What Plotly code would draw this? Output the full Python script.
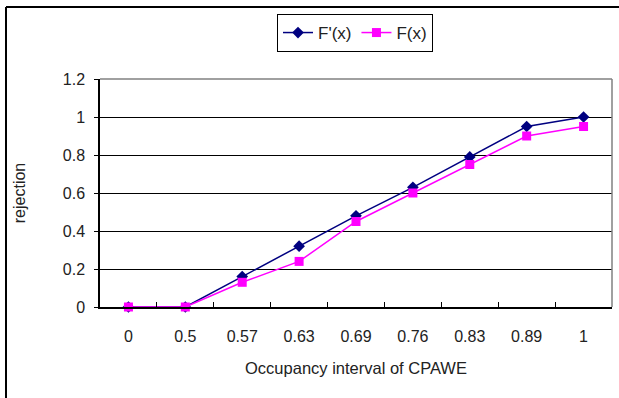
import plotly.graph_objects as go

categories = ["0", "0.5", "0.57", "0.63", "0.69", "0.76", "0.83", "0.89", "1"]
f_prime = [0, 0, 0.16, 0.32, 0.48, 0.63, 0.79, 0.95, 1.0]
f_vals = [0, 0, 0.13, 0.24, 0.45, 0.60, 0.75, 0.90, 0.95]
y_ticks = [0, 0.2, 0.4, 0.6, 0.8, 1, 1.2]
y_labels = ["0", "0.2", "0.4", "0.6", "0.8", "1", "1.2"]

W, H = 619, 398
L, R, T, B = 100, 7, 79, 91
pw, ph = W - L - R, H - T - B

def px(x):
    return (x - L) / pw

def py(y):
    return (H - B - y) / ph

font = "Liberation Sans"
txt = "#222222"

fig = go.Figure()
fig.add_trace(go.Scatter(
    x=categories, y=f_prime, name="F'(x)", mode="lines+markers",
    line=dict(color="#000080", width=1.5), cliponaxis=False,
    marker=dict(symbol="diamond", size=9, color="#000080"),
))
fig.add_trace(go.Scatter(
    x=categories, y=f_vals, name="F(x)", mode="lines+markers",
    line=dict(color="#FF00FF", width=1.5), cliponaxis=False,
    marker=dict(symbol="square", size=9, color="#FF00FF"),
))

fig.update_layout(
    width=W, height=H,
    margin=dict(l=L, r=R, t=T, b=B, pad=0),
    paper_bgcolor="white", plot_bgcolor="white",
    font=dict(family=font, size=16, color=txt),
    legend=dict(
        orientation="h", x=px(355), xanchor="center", y=py(14), yanchor="top",
        bordercolor="black", borderwidth=1, bgcolor="white",
        font=dict(size=17, family=font, color=txt),
        itemwidth=30, tracegroupgap=0,
    ),
    xaxis=dict(
        type="category", tickson="boundaries", ticks="inside", ticklen=5,
        tickcolor="black", showline=True, linecolor="black", linewidth=1.5,
        showgrid=False, tickfont=dict(size=16), ticklabelstandoff=14,
        title=dict(text="Occupancy interval of CPAWE", standoff=18, font=dict(size=16.5)),
        range=[-0.5, 8.5],
    ),
    yaxis=dict(
        range=[0, 1.2], tickvals=y_ticks, ticktext=y_labels, ticks="outside",
        ticklen=4, tickcolor="black", showline=True, linecolor="black", linewidth=1.5,
        showgrid=True, gridcolor="black", gridwidth=1, zeroline=False,
        tickfont=dict(size=16), ticklabelstandoff=6,
        title=dict(text="rejection", standoff=33, font=dict(size=16)),
    ),
    showlegend=True,
)

# plot-area border (gray top/right)
fig.add_shape(type="line", xref="paper", yref="paper", x0=0, x1=1, y0=1, y1=1,
              line=dict(color="#808080", width=1.5), layer="above")
fig.add_shape(type="line", xref="paper", yref="paper", x0=1, x1=1, y0=0, y1=1,
              line=dict(color="#808080", width=1.5), layer="above")
# chart-area border (top and left visible)
fig.add_shape(type="line", xref="paper", yref="paper", x0=px(6), x1=px(625), y0=py(7), y1=py(7),
              line=dict(color="black", width=2), layer="above")
fig.add_shape(type="line", xref="paper", yref="paper", x0=px(6), x1=px(6), y0=py(7), y1=py(405),
              line=dict(color="black", width=2), layer="above")

fig.write_html("out.html")
